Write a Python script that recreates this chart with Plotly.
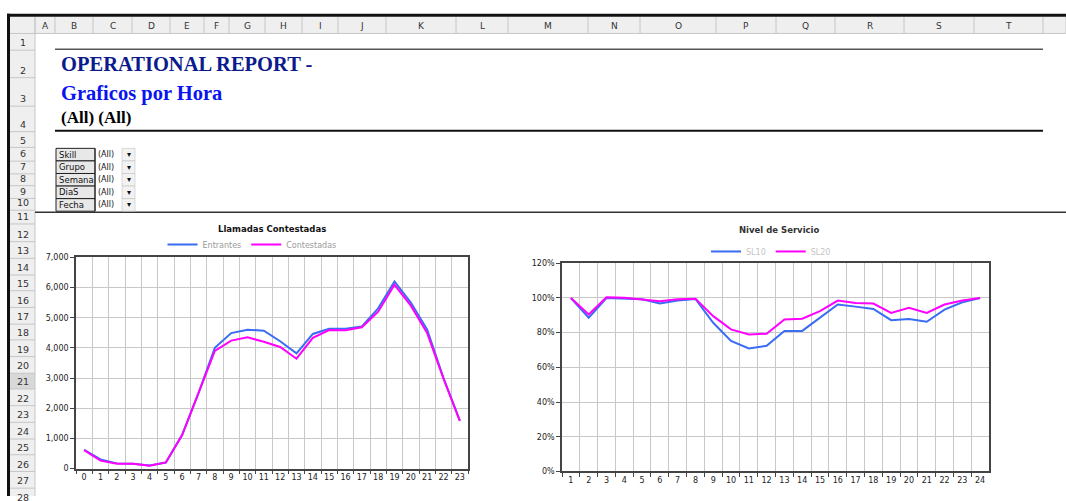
import plotly.graph_objects as go

W, H = 1066, 501

# ---------------- data ----------------
hours = list(range(0, 24))
entrantes = [620, 300, 170, 160, 100, 200, 1120, 2500, 4000, 4490, 4600, 4570,
             4220, 3820, 4460, 4630, 4630, 4710, 5310, 6200, 5500, 4600, 3000, 1590]
contestadas = [610, 260, 160, 160, 90, 200, 1110, 2480, 3900, 4240, 4350, 4200,
               4030, 3640, 4330, 4590, 4580, 4680, 5200, 6090, 5400, 4490, 2980, 1580]

intervals = list(range(1, 25))
sl10 = [100, 88.6, 100, 99.6, 99.2, 96.8, 98.5, 99.4, 85.7, 75.2, 70.9, 72.4,
        81, 81, 88.6, 96.2, 95, 93.7, 87.2, 87.8, 86.3, 93.3, 97.5, 100]
sl20 = [100, 90.5, 100.4, 100.1, 99.1, 98.1, 99.2, 99.6, 89.5, 81.9, 79.0, 79.4,
        87.6, 88, 92.4, 98.5, 97.1, 96.8, 91.4, 94.3, 91.4, 96.2, 98.5, 100]

col_letters = list("ABCDEFGHIJKLMNOPQRST")
row_numbers = list(range(1, 29))
filter_labels = ["Skill", "Grupo", "Semana", "DiaS", "Fecha"]
filter_values = ["(All)"] * 5

# ---------------- layout helpers ----------------
def px(x):
    return x / W

def py(y):
    return 1 - y / H

col_bounds = [35, 55, 93, 132, 170, 204, 229, 265, 302, 338, 386, 456, 508,
              588, 640, 716, 776, 835, 904, 974, 1043]
row_bounds = [30, 47, 75, 104, 130, 146, 160, 173, 185, 198, 210, 224, 242,
              259, 276, 292, 309, 326, 342, 359, 376, 392, 409, 426, 443, 459,
              476, 493, 510]

BLUE = "#3a6cf4"
MAG = "#ff00ff"
HDR_BG = "#efefef"
HDR_LINE = "#c6c6c6"
AX_FONT = dict(family="DejaVu Sans", size=8, color="#222")

fig = go.Figure()

fig.add_trace(go.Scatter(x=hours, y=entrantes, mode="lines", name="Entrantes",
                         line=dict(color=BLUE, width=2), xaxis="x", yaxis="y",
                         legend="legend"))
fig.add_trace(go.Scatter(x=hours, y=contestadas, mode="lines", name="Contestadas",
                         line=dict(color=MAG, width=2), xaxis="x", yaxis="y",
                         legend="legend"))
fig.add_trace(go.Scatter(x=intervals, y=sl10, mode="lines", name="SL10",
                         line=dict(color=BLUE, width=2), xaxis="x2", yaxis="y2",
                         legend="legend2"))
fig.add_trace(go.Scatter(x=intervals, y=sl20, mode="lines", name="SL20",
                         line=dict(color=MAG, width=2), xaxis="x2", yaxis="y2",
                         legend="legend2"))

shapes = []
annotations = []

# spreadsheet header bar
shapes.append(dict(type="rect", xref="paper", yref="paper", x0=px(10), x1=px(W),
                   y0=py(30), y1=py(13), fillcolor=HDR_BG, line=dict(width=0), layer="below"))
shapes.append(dict(type="rect", xref="paper", yref="paper", x0=px(10), x1=px(35),
                   y0=py(H), y1=py(13), fillcolor=HDR_BG, line=dict(width=0), layer="below"))
# highlighted row 21
shapes.append(dict(type="rect", xref="paper", yref="paper", x0=px(10), x1=px(35),
                   y0=py(row_bounds[21]), y1=py(row_bounds[20]), fillcolor="#d8d8d8",
                   line=dict(width=0), layer="below"))
# column separators + letters
for b in col_bounds + [W]:
    shapes.append(dict(type="line", xref="paper", yref="paper", x0=px(b), x1=px(b),
                       y0=py(30), y1=py(13), line=dict(color=HDR_LINE, width=1)))
for i, L in enumerate(col_letters):
    cx = (col_bounds[i] + col_bounds[i + 1]) / 2
    annotations.append(dict(x=px(cx), y=py(22), xref="paper", yref="paper", text=L,
                            showarrow=False, font=dict(family="DejaVu Sans", size=9, color="#333"),
                            xanchor="center", yanchor="middle"))
shapes.append(dict(type="line", xref="paper", yref="paper", x0=px(10), x1=px(W),
                   y0=py(30), y1=py(30), line=dict(color=HDR_LINE, width=1)))
# row separators + numbers
for i, n in enumerate(row_numbers):
    top, bot = row_bounds[i], row_bounds[i + 1]
    shapes.append(dict(type="line", xref="paper", yref="paper", x0=px(10), x1=px(35),
                       y0=py(bot), y1=py(bot), line=dict(color=HDR_LINE, width=1)))
    annotations.append(dict(x=px(22.5), y=py(bot - 7.5), xref="paper", yref="paper", text=str(n),
                            showarrow=False, font=dict(family="DejaVu Sans", size=9.5, color="#333"),
                            xanchor="center", yanchor="middle"))
shapes.append(dict(type="line", xref="paper", yref="paper", x0=px(35), x1=px(35),
                   y0=py(H), y1=py(13), line=dict(color=HDR_LINE, width=1)))
# black frame top + left
shapes.append(dict(type="rect", xref="paper", yref="paper", x0=px(7), x1=px(W),
                   y0=py(13), y1=py(10), fillcolor="#111", line=dict(width=0)))
shapes.append(dict(type="rect", xref="paper", yref="paper", x0=px(7), x1=px(10),
                   y0=py(H), y1=py(10), fillcolor="#111", line=dict(width=0)))

# report title lines
shapes.append(dict(type="line", xref="paper", yref="paper", x0=px(55), x1=px(1043),
                   y0=py(46), y1=py(46), line=dict(color="#555", width=1.5)))
shapes.append(dict(type="line", xref="paper", yref="paper", x0=px(55), x1=px(1043),
                   y0=py(129), y1=py(129), line=dict(color="#111", width=2)))
shapes.append(dict(type="line", xref="paper", yref="paper", x0=px(35), x1=px(W),
                   y0=py(212), y1=py(212), line=dict(color="#333", width=1.5)))

annotations.append(dict(x=px(59), y=py(61), xref="paper", yref="paper",
                        text="<b>OPERATIONAL REPORT -</b>", showarrow=False,
                        font=dict(family="Liberation Serif", size=20.5, color="#0b1a8c"),
                        xanchor="left", yanchor="middle"))
annotations.append(dict(x=px(59), y=py(91), xref="paper", yref="paper",
                        text="<b>Graficos por Hora</b>", showarrow=False,
                        font=dict(family="Liberation Serif", size=20.5, color="#0a14f0"),
                        xanchor="left", yanchor="middle"))
annotations.append(dict(x=px(59), y=py(116), xref="paper", yref="paper",
                        text="<b>(All) (All)</b>", showarrow=False,
                        font=dict(family="Liberation Serif", size=17, color="#000"),
                        xanchor="left", yanchor="middle"))

# filter table
t_top, t_h = 147, 12.8
for i, (lab, val) in enumerate(zip(filter_labels, filter_values)):
    y0 = t_top + i * t_h
    y1 = y0 + t_h
    shapes.append(dict(type="rect", xref="paper", yref="paper", x0=px(56), x1=px(95),
                       y0=py(y1), y1=py(y0), fillcolor="#e8e8e8",
                       line=dict(color="#222", width=1)))
    shapes.append(dict(type="rect", xref="paper", yref="paper", x0=px(122), x1=px(135),
                       y0=py(y1), y1=py(y0), fillcolor="#f2f2f2",
                       line=dict(color="#bbb", width=0.5)))
    annotations.append(dict(x=px(57), y=py(y0 + t_h / 2), xref="paper", yref="paper",
                            text=lab, showarrow=False,
                            font=dict(family="DejaVu Sans", size=8.5, color="#111"),
                            xanchor="left", yanchor="middle"))
    annotations.append(dict(x=px(96), y=py(y0 + t_h / 2), xref="paper", yref="paper",
                            text=val, showarrow=False,
                            font=dict(family="DejaVu Sans", size=8, color="#111"),
                            xanchor="left", yanchor="middle"))
    annotations.append(dict(x=px(128.5), y=py(y0 + t_h / 2), xref="paper", yref="paper",
                            text="▾", showarrow=False,
                            font=dict(family="DejaVu Sans", size=8, color="#111"),
                            xanchor="center", yanchor="middle"))
shapes.append(dict(type="line", xref="paper", yref="paper", x0=px(95), x1=px(95),
                   y0=py(t_top + 5 * t_h), y1=py(t_top), line=dict(color="#222", width=1)))

# chart titles
annotations.append(dict(x=px(272), y=py(229), xref="paper", yref="paper",
                        text="<b>Llamadas Contestadas</b>", showarrow=False,
                        font=dict(family="DejaVu Sans", size=8.5, color="#111"),
                        xanchor="center", yanchor="middle"))
annotations.append(dict(x=px(779), y=py(230), xref="paper", yref="paper",
                        text="<b>Nivel de Servicio</b>", showarrow=False,
                        font=dict(family="DejaVu Sans", size=8.5, color="#333"),
                        xanchor="center", yanchor="middle"))

axis_common = dict(showline=True, linecolor="#444", linewidth=1.5, mirror=True,
                   showgrid=True, gridcolor="#c8c8c8", gridwidth=1, zeroline=False,
                   ticks="outside", ticklen=4, tickcolor="#444", tickfont=AX_FONT,
                   fixedrange=True)

fig.update_layout(
    width=W, height=H, margin=dict(l=0, r=0, t=0, b=0),
    paper_bgcolor="white", plot_bgcolor="white",
    shapes=shapes, annotations=annotations,
    xaxis=dict(domain=[px(76), px(468)], anchor="y", type="category",
               tickson="boundaries", range=[-0.5, 23.5], tickangle=0, **axis_common),
    yaxis=dict(domain=[py(473), py(258)], anchor="x", range=[0, 7000], dtick=1000,
               tickformat=",d", **axis_common),
    xaxis2=dict(domain=[px(562), px(989)], anchor="y2", type="category",
                tickson="boundaries", range=[-0.5, 23.5], tickangle=0, **axis_common),
    yaxis2=dict(domain=[py(476), py(264)], anchor="x2", range=[0, 120], dtick=20,
                ticksuffix="%", **axis_common),
    legend=dict(x=px(252), y=py(245), xanchor="center", yanchor="middle",
                orientation="h", font=dict(family="DejaVu Sans", size=8, color="#9a9a9a"),
                bgcolor="rgba(0,0,0,0)", itemwidth=30, tracegroupgap=0),
    legend2=dict(x=px(771), y=py(252), xanchor="center", yanchor="middle",
                 orientation="h", font=dict(family="DejaVu Sans", size=8, color="#c4c4c4"),
                 bgcolor="rgba(0,0,0,0)", itemwidth=30, tracegroupgap=0),
    showlegend=True,
)

fig.write_html("out.html", config={"displayModeBar": False},
               post_script="document.body.style.margin='0';")
